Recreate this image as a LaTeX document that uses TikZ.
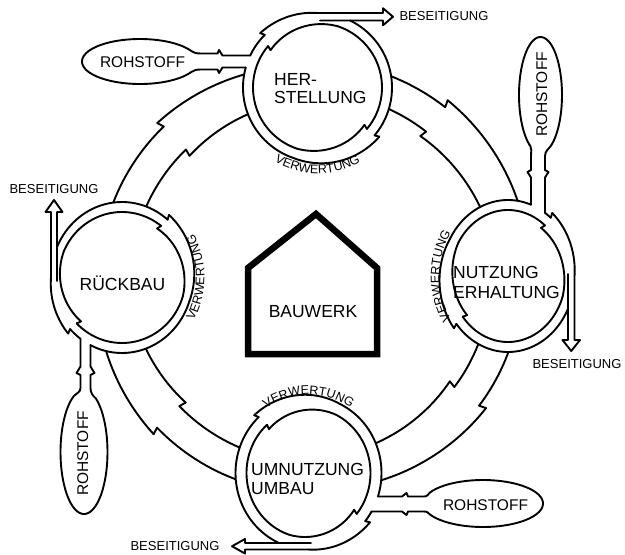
\documentclass[tikz,border=0pt]{standalone}
\usepackage{fontspec}
\setmainfont{Liberation Sans}
\usetikzlibrary{decorations.text}
\tikzset{
  wline/.style={line width=1.9pt,line cap=round,line join=round},
  lbl/.style={inner sep=0pt,font=\fontsize{17.5}{20}\selectfont},
  rlbl/.style={inner sep=0pt,font=\fontsize{15.5}{18}\selectfont},
  blbl/.style={inner sep=0pt,font=\fontsize{13}{15}\selectfont},
  verw/.style={decorate,decoration={text along path,text={|\verwfont|VERWERTUNG},text align=center}}
}
\newcommand\verwfont{\fontsize{12.5}{14}\selectfont}
% arc of ellipse (cx,cy,rx,ry) from t1 to t2, radial offset d1 -> d2
\newcommand\rarc[8]{\draw[wline] plot[domain=#5:#6,samples=40] ({#1+(#3+(#7)+((#8)-(#7))*(\x-(#5))/((#6)-(#5)))*cos(\x)},{#2+(#4+(#7)+((#8)-(#7))*(\x-(#5))/((#6)-(#5)))*sin(\x)});}
\newcommand\rtooth[8]{\draw[wline] ({#1+(#3+(#7))*cos(#5)},{#2+(#4+(#7))*sin(#5)}) -- ({#1+(#3+(#8))*cos(#6)},{#2+(#4+(#8))*sin(#6)});}
\newcommand\rfill[4]{\fill[white] plot[domain=0:360,samples=90] ({#1+#3*cos(\x)},{#2+#4*sin(\x)}) -- cycle;}
\begin{document}
\begin{tikzpicture}[x=1pt,y=-1pt]
\useasboundingbox (0,0) rectangle (625,555);
% ---------- main band ----------
% Rueckbau -> Herstellung
\rarc{311}{279}{212}{212}{176}{226}{0}{0}
\rtooth{311}{279}{212}{212}{226}{225.4}{0}{7}
\rarc{311}{279}{212}{212}{225.4}{274}{7}{0}
\rarc{311}{279}{180}{180}{176}{226}{0}{0}
\rtooth{311}{279}{180}{180}{226}{225.4}{0}{-7}
\rarc{311}{279}{180}{180}{225.4}{274}{-7}{0}
% Herstellung -> Nutzung
\rarc{311}{279}{218}{218}{268}{308}{0}{0}
\rtooth{311}{279}{218}{218}{308}{307.4}{0}{7}
\rarc{311}{279}{218}{218}{307.4}{362}{7}{0}
\rarc{311}{279}{187}{187}{268}{308}{0}{0}
\rtooth{311}{279}{187}{187}{308}{307.4}{0}{-7}
\rarc{311}{279}{187}{187}{307.4}{362}{-7}{0}
% Nutzung -> Umnutzung
\rarc{311}{279}{210.5}{210.5}{358}{397}{0}{0}
\rtooth{311}{279}{210.5}{210.5}{397}{396.4}{0}{7}
\rarc{311}{279}{210.5}{210.5}{396.4}{452}{7}{0}
\rarc{311}{279}{179.5}{179.5}{358}{397}{0}{0}
\rtooth{311}{279}{179.5}{179.5}{397}{396.4}{0}{-7}
\rarc{311}{279}{179.5}{179.5}{396.4}{452}{-7}{0}
% Umnutzung -> Rueckbau
\rarc{311}{279}{214}{214}{88}{136}{0}{0}
\rtooth{311}{279}{214}{214}{136}{135.4}{0}{7}
\rarc{311}{279}{214}{214}{135.4}{182}{7}{0}
\rarc{311}{279}{183}{183}{88}{136}{0}{0}
\rtooth{311}{279}{183}{183}{136}{135.4}{0}{-7}
\rarc{311}{279}{183}{183}{135.4}{182}{-7}{0}
% ---------- station backgrounds ----------
\rfill{317.5}{87.5}{74.5}{74.5}
\rfill{508}{276}{66.5}{76}
\rfill{122}{277.5}{71}{75.5}
\rfill{308.5}{473}{73}{76.5}
% ---------- Herstellung ring ----------
\rarc{317.5}{87.5}{74.5}{74.5}{295.93}{400}{0}{0}
\rtooth{317.5}{87.5}{74.5}{74.5}{400}{398.5}{0}{4.5}
\rarc{317.5}{87.5}{74.5}{74.5}{398.5}{468.5}{4.5}{0}
\rarc{317.5}{87.5}{74.5}{74.5}{468.5}{555.57}{0}{0}
\rarc{317.5}{87.5}{74.5}{74.5}{565.44}{585}{0}{0}
\rtooth{317.5}{87.5}{74.5}{74.5}{585}{583.5}{0}{4.5}
\rarc{317.5}{87.5}{74.5}{74.5}{583.5}{630}{4.5}{0}
\draw[wline] (317.5,13) -- (383,13) -- (383,8.25) -- (393,16.75) -- (383,25.25) -- (383,20.5) -- (320,20.5);
\rarc{317.5}{87.5}{64.5}{64.5}{38.5}{108.5}{-4.5}{0}
\rarc{317.5}{87.5}{64.5}{64.5}{108.5}{220}{0}{0}
\rtooth{317.5}{87.5}{64.5}{64.5}{220}{218.5}{0}{-4.5}
\rarc{317.5}{87.5}{64.5}{64.5}{218.5}{288.5}{-4.5}{0}
\rarc{317.5}{87.5}{64.5}{64.5}{288.5}{400}{0}{0}
\rtooth{317.5}{87.5}{64.5}{64.5}{400}{398.5}{0}{-4.5}
% ---------- Nutzung ring ----------
\rarc{508}{276}{66.5}{76}{25.55}{141}{0}{0}
\rtooth{508}{276}{66.5}{76}{141}{139.5}{0}{4.5}
\rarc{508}{276}{66.5}{76}{139.5}{209.5}{4.5}{0}
\rarc{508}{276}{66.5}{76}{209.5}{290.24}{0}{0}
\rarc{508}{276}{66.5}{76}{303.81}{310}{0}{0}
\rtooth{508}{276}{66.5}{76}{310}{308.5}{0}{4.5}
\rarc{508}{276}{66.5}{76}{308.5}{360}{4.5}{0}
\draw[wline] (574.5,276) -- (574.5,340) -- (580,340) -- (571.25,351) -- (562.5,340) -- (568,340) -- (568,274);
\rarc{508}{276}{57.5}{66}{140.5}{210.5}{-4.5}{0}
\rarc{508}{276}{57.5}{66}{210.5}{310}{0}{0}
\rtooth{508}{276}{57.5}{66}{310}{308.5}{0}{-4.5}
\rarc{508}{276}{57.5}{66}{308.5}{378.5}{-4.5}{0}
\rarc{508}{276}{57.5}{66}{378.5}{502}{0}{0}
\rtooth{508}{276}{57.5}{66}{502}{500.5}{0}{-4.5}
% ---------- Rueckbau ring ----------
\rarc{122}{277.5}{71}{75.5}{203.72}{310}{0}{0}
\rtooth{122}{277.5}{71}{75.5}{310}{308.5}{0}{4.5}
\rarc{122}{277.5}{71}{75.5}{308.5}{378.5}{4.5}{0}
\rarc{122}{277.5}{71}{75.5}{378.5}{476.34}{0}{0}
\rarc{122}{277.5}{71}{75.5}{485.77}{497}{0}{0}
\rtooth{122}{277.5}{71}{75.5}{497}{495.5}{0}{4.5}
\rarc{122}{277.5}{71}{75.5}{495.5}{540}{4.5}{0}
\draw[wline] (51,277.5) -- (51,212) -- (45.5,212) -- (54,200) -- (62.5,212) -- (57,212) -- (57,281);
\rarc{122}{277.5}{63.5}{65.5}{134}{204}{-4.5}{0}
\rarc{122}{277.5}{63.5}{65.5}{204}{308}{0}{0}
\rtooth{122}{277.5}{63.5}{65.5}{308}{306.5}{0}{-4.5}
\rarc{122}{277.5}{63.5}{65.5}{306.5}{376.5}{-4.5}{0}
\rarc{122}{277.5}{63.5}{65.5}{376.5}{495.5}{0}{0}
\rtooth{122}{277.5}{63.5}{65.5}{495.5}{494}{0}{-4.5}
% ---------- Umnutzung ring ----------
\rarc{308.5}{473}{73}{76.5}{113.8}{227}{0}{0}
\rtooth{308.5}{473}{73}{76.5}{227}{225.5}{0}{4.5}
\rarc{308.5}{473}{73}{76.5}{225.5}{295.5}{4.5}{0}
\rarc{308.5}{473}{73}{76.5}{295.5}{377.89}{0}{0}
\rarc{308.5}{473}{73}{76.5}{390.22}{399}{0}{0}
\rtooth{308.5}{473}{73}{76.5}{399}{397.5}{0}{4.5}
\rarc{308.5}{473}{73}{76.5}{397.5}{450}{4.5}{0}
\draw[wline] (308.5,549.5) -- (245,549.5) -- (245,553.5) -- (232,546.25) -- (245,539) -- (245,543) -- (311,543);
\rarc{308.5}{473}{62}{65}{37.5}{107.5}{-4.5}{0}
\rarc{308.5}{473}{62}{65}{107.5}{228}{0}{0}
\rtooth{308.5}{473}{62}{65}{228}{226.5}{0}{-4.5}
\rarc{308.5}{473}{62}{65}{226.5}{296.5}{-4.5}{0}
\rarc{308.5}{473}{62}{65}{296.5}{399}{0}{0}
\rtooth{308.5}{473}{62}{65}{399}{397.5}{0}{-4.5}
% ---------- Rohstoff balloons and stems ----------
\draw[wline] (250.22,55.5) -- (222.5,55.5) -- (219,50) -- (217.5,53.5) -- (201,53.5) .. controls (196.5,53.5) and (194,53) .. (191.21,51.06) -- plot[domain=0:304,samples=80] ({140+58*cos(332-\x)},{61.5+22.5*sin(332-\x)}) .. controls (194,70) and (196.5,69.5) .. (201,69.5) -- (217.5,69.5) -- (219,73) -- (222.5,67.5) -- (245.73,67.5);
\draw[wline] (545,212.85) -- (545,177.5) -- (548.5,172) -- (545,170) -- (545,156) .. controls (545,151) and (548.9,148.7) .. (550.59,146.21) -- plot[domain=0:304,samples=80] ({540.5+21.5*cos(62-\x)},{95+58*sin(62-\x)}) .. controls (532.1,148.7) and (531,151) .. (531,156) -- (531,170) -- (527.5,172) -- (531,177.5) -- (531,204.7);
\draw[wline] (90.5,345.16) -- (90.5,366.5) -- (94.5,373) -- (90.5,375) -- (90.5,388) .. controls (90.5,393) and (93,396) .. (95.75,398.31) -- plot[domain=0:305,samples=80] ({84+23.5*cos(300+\x)},{452+62*sin(300+\x)}) .. controls (77,393) and (80.5,392) .. (80.5,388) -- (80.5,375) -- (76.5,373) -- (80.5,366.5) -- (80.5,338.76);
\draw[wline] (377.97,496.5) -- (402,496.5) -- (406.5,493) -- (408,496.5) -- (424,496.5) .. controls (428,496.5) and (427.6,494.2) .. (430.02,492.47) -- plot[domain=0:304,samples=80] ({483+60*cos(208+\x)},{503.5+23.5*sin(208+\x)}) .. controls (427.6,512.8) and (428,511.5) .. (424,511.5) -- (408,511.5) -- (406.5,515) -- (402,511.5) -- (371.58,511.5);
% ---------- house ----------
\draw[line width=6.5pt,line join=miter] (248,354) -- (248,268) -- (316,214) -- (377,268) -- (377,354) -- cycle;
% ---------- labels ----------
\node[lbl,anchor=base west] (h1) at (274,85) {HER-};
\node[lbl,anchor=base west] (h2) at (274,103) {STELLUNG};
\node[lbl,anchor=base west] (n1) at (453,278) {NUTZUNG};
\node[lbl,anchor=base west] (n2) at (453,298) {ERHALTUNG};
\node[lbl,anchor=base west] (u1) at (251,475) {UMNUTZUNG};
\node[lbl,anchor=base west] (u2) at (251,494.5) {UMBAU};
\node[lbl,anchor=base] (r1) at (122.5,290) {RÜCKBAU};
\node[lbl,anchor=base] (bw) at (313,317) {BAUWERK};
\node[rlbl,anchor=base] (rh) at (142.5,67) {ROHSTOFF};
\node[rlbl,anchor=base] (ru) at (485.5,510) {ROHSTOFF};
\node[rlbl,anchor=base,rotate=90] (rn) at (547,94.5) {ROHSTOFF};
\node[rlbl,anchor=base,rotate=90] (rr) at (88,453.5) {ROHSTOFF};
\node[blbl,anchor=base] (bh) at (444,20) {BESEITIGUNG};
\node[blbl,anchor=base] (bn) at (577,368) {BESEITIGUNG};
\node[blbl,anchor=base] (br) at (54,193.5) {BESEITIGUNG};
\node[blbl,anchor=base] (bu) at (175,550.5) {BESEITIGUNG};
% ---------- Verwertung labels ----------
\path[verw] plot[domain=0:140,samples=60] ({317.5+86*cos(160-\x)},{87.5+86*sin(160-\x)});
\path[verw] plot[domain=110:250,samples=60] ({508+68.5*cos(\x)},{276+78*sin(\x)});
\path[verw] plot[domain=0:140,samples=60] ({122+82.5*cos(70-\x)},{277.5+87*sin(70-\x)});
\path[verw] plot[domain=200:340,samples=60] ({308.5+75*cos(\x)},{473+78.5*sin(\x)});
\end{tikzpicture}
\end{document}
